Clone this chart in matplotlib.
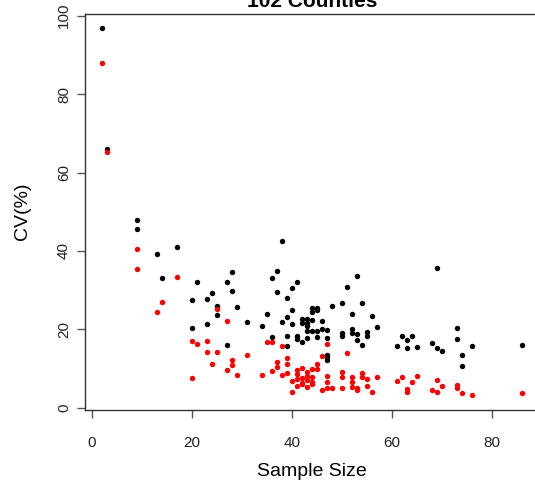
import numpy as np
import matplotlib
matplotlib.use('Agg')
from matplotlib import pyplot as plt

plt.rcParams['font.family'] = ['Liberation Sans', 'DejaVu Sans']

# sample size per county and CV (%) of the two estimators
size_black = [2, 3, 9, 9, 13, 14, 17,
              38, 28, 21, 27, 37, 36, 28, 37, 24, 23, 20, 39, 25, 29, 25, 35, 39, 31,
              38, 23, 34, 20, 39, 36, 27, 39,
              53, 41, 40, 51, 54, 50, 48, 44, 45, 40, 44, 45, 52, 56, 42, 43, 44, 46,
              42, 43, 40, 57, 43, 46, 52, 44, 45, 47, 43, 50, 53, 55, 52, 41, 50, 45,
              55, 41, 42, 43, 47, 53, 54, 47, 47, 47,
              69, 73, 73, 62, 64, 63, 61, 63, 65, 68, 69, 70, 76, 74, 74, 86]
cv_black = [96.8, 66.0, 47.8, 45.7, 39.3, 33.1, 41.0,
            42.5, 34.6, 32.1, 32.1, 34.9, 33.2, 29.8, 29.6, 29.2, 27.7, 27.6, 27.9, 25.9, 25.6, 23.6, 23.9, 23.1, 21.9,
            21.9, 21.4, 20.8, 20.3, 18.4, 18.0, 15.9, 15.7,
            33.7, 32.1, 30.6, 30.8, 26.8, 26.6, 25.9, 25.5, 25.5, 24.9, 24.4, 24.9, 24.0, 23.4, 22.7, 22.7, 22.4, 22.2,
            21.7, 21.7, 21.4, 20.5, 20.8, 20.2, 20.2, 19.6, 19.6, 19.8, 19.6, 19.0, 18.9, 19.2, 19.0, 18.4, 18.4, 18.0,
            18.4, 17.5, 16.8, 17.8, 17.7, 17.3, 16.0, 13.4, 12.9, 12.2,
            35.7, 20.4, 17.5, 18.3, 18.3, 17.2, 15.7, 15.2, 15.5, 16.6, 15.2, 14.5, 15.8, 13.5, 10.6, 16.0]

size_red = [2, 3, 9, 9, 17, 14, 13,
            25, 27, 20, 21, 23, 35, 36, 38, 23, 25, 31, 24, 28, 28, 37, 27, 37, 36,
            39, 39, 29, 34, 38, 39, 20,
            47, 51, 46, 45, 45, 41, 42, 43, 44, 41, 42, 43, 44, 40, 41, 42, 43, 44,
            47, 47, 50, 50, 52, 52, 54, 54, 55, 57, 41, 42, 43, 44, 40, 46, 47, 48,
            50, 53, 53, 52, 56, 55,
            61, 62, 65, 64, 63, 63, 68, 69, 69, 70, 73, 73, 74, 76, 86]
cv_red = [87.9, 65.2, 40.6, 35.4, 33.3, 27.0, 24.4,
          25.1, 22.1, 17.1, 16.3, 17.1, 16.7, 16.7, 15.8, 14.2, 14.2, 13.4, 11.2, 12.1, 10.8, 11.7, 9.6, 10.4, 9.4,
          12.6, 11.1, 8.3, 8.3, 8.3, 8.8, 7.5,
          16.3, 13.9, 13.2, 11.1, 9.8, 9.6, 10.0, 9.2, 9.9, 8.6, 7.6, 8.2, 7.8, 6.8, 7.2, 6.4, 7.0, 6.6,
          8.0, 6.6, 9.1, 7.9, 7.9, 6.5, 8.9, 7.9, 7.4, 7.9, 5.6, 6.0, 5.4, 6.1, 4.1, 4.5, 4.9, 4.9,
          4.9, 4.5, 5.1, 5.4, 4.1, 5.5,
          6.9, 7.9, 8.1, 6.5, 4.7, 4.1, 4.6, 7.0, 4.1, 5.6, 5.7, 5.0, 3.8, 3.2, 3.7]

W, H = 535, 486
fig = plt.figure(figsize=(W / 100, H / 100), dpi=100)
ax = fig.add_axes([84.9 / W, 1 - 409.8 / H, 453.6 / W, 396.2 / H])

ax.plot(size_black, cv_black, 'o', color='black', ms=3.9, mew=0)
ax.plot(size_red, cv_red, 'o', color='red', ms=3.9, mew=0)

# R style 4% padding
ax.set_xlim(-1.36, 89.36)
ax.set_ylim(-0.54, 100.54)
ax.set_xticks(np.arange(0, 81, 20))
ax.set_yticks(np.arange(0, 101, 20))
ax.set_yticklabels([str(v) for v in range(0, 101, 20)], rotation=90, va='center')
ax.tick_params(axis='both', direction='out', length=6, width=1, color='#555555',
               labelsize=11, labelcolor='#222222')
ax.tick_params(axis='x', pad=13)
ax.tick_params(axis='y', pad=4)
for s in ax.spines.values():
  s.set_color('#333333')
  s.set_linewidth(1)

fig.text(311.7 / W, 1 - 6.7 / H, '102 Counties', ha='center', va='baseline',
         fontsize=15, fontweight='bold')
fig.text(311.7 / W, 1 - 476 / H, 'Sample Size', ha='center', va='baseline', fontsize=14)
fig.text(22 / W, 1 - 211.7 / H, 'CV(%)', ha='center', va='center', rotation=90, fontsize=14)

fig.savefig('out.png', dpi=100)
